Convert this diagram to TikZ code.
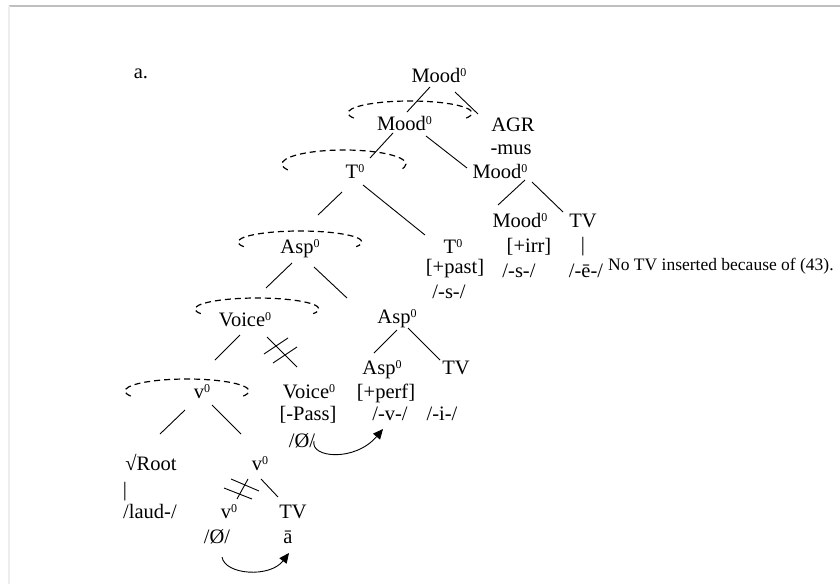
\documentclass[tikz,border=0pt]{standalone}
\usepackage{fontspec}
\setmainfont{Liberation Serif}
\usetikzlibrary{arrows.meta}
% small raised index used on category labels (Mood^0, T^0, ...)
\newcommand\supz[1]{\raisebox{6pt}{\fontsize{12}{12}\selectfont #1}}

\begin{document}
\begin{tikzpicture}[x=1pt,y=-1pt,
  lbl/.style={anchor=base, inner sep=0pt, font=\fontsize{20.5}{24}\selectfont},
  notelbl/.style={anchor=base west, inner sep=0pt, font=\fontsize{17.5}{20}\selectfont},
  branch/.style={line width=0.9pt},
  hashmark/.style={line width=0.9pt},
  dasharc/.style={line width=1.2pt, dash pattern=on 6pt off 4pt},
  movearrow/.style={line width=0.9pt, -{Triangle[length=10pt,width=9pt]}},
  frameline/.style={line width=1.2pt}
]
\useasboundingbox (0,0) rectangle (840,584);

% page frame
\draw[frameline, black!25] (9,6) -- (840,6);
\draw[frameline, black!7] (9,6) -- (9,584);

% ---------- labels ----------
\node[lbl] (tag)    at (141,78)  {a.};
\node[lbl] (root)   at (439,82)  {Mood\supz{0}};
\node[lbl] (moodA)  at (404.5,130) {Mood\supz{0}};
\node[lbl] (agr)    at (513,131) {AGR};
\node[lbl] (mus)    at (511,154) {-mus};
\node[lbl] (tA)     at (355,178) {T\supz{0}};
\node[lbl] (moodB)  at (500,178) {Mood\supz{0}};
\node[lbl] (moodC)  at (520,227) {Mood\supz{0}};
\node[lbl] (tvA)    at (583,227) {TV};
\node[lbl] (irr)    at (529,252) {[+irr]};
\node[lbl] (barA)   at (583,251) {|};
\node[lbl] (sC)     at (519,277) {/-s-/};
\node[lbl] (eA)     at (586,277) {/-ē-/};
\node[lbl] (aspA)   at (300,253) {Asp\supz{0}};
\node[lbl] (tB)     at (453,253) {T\supz{0}};
\node[lbl] (past)   at (455,273) {[+past]};
\node[lbl] (sB)     at (449,298) {/-s-/};
\node[lbl] (voiceA) at (245,326) {Voice\supz{0}};
\node[lbl] (aspB)   at (397,323) {Asp\supz{0}};
\node[lbl] (aspC)   at (382,374) {Asp\supz{0}};
\node[lbl] (tvB)    at (456,374) {TV};
\node[lbl] (vA)     at (202,398) {v\supz{0}};
\node[lbl] (voiceB) at (309,398) {Voice\supz{0}};
\node[lbl] (perf)   at (386,398) {[+perf]};
\node[lbl] (pass)   at (308,420) {[-Pass]};
\node[lbl] (vsuf)   at (390,420) {/-v-/};
\node[lbl] (isuf)   at (442,420) {/-i-/};
\node[lbl] (zeroA)  at (302,447) {/Ø/};
\node[lbl] (rootLex) at (151,470) {√Root};
\node[lbl] (vB)     at (260,470) {v\supz{0}};
\node[lbl] (barB)   at (125,496) {|};
\node[lbl] (laud)   at (150,518) {/laud-/};
\node[lbl] (vC)     at (229,518) {v\supz{0}};
\node[lbl] (tvC)    at (293,518) {TV};
\node[lbl] (zeroB)  at (217,543) {/Ø/};
\node[lbl] (abar)   at (288,543) {ā};
\node[notelbl] (note) at (608,270) {No TV inserted because of (43).};

% ---------- branch end points ----------
\coordinate (b1s) at (430,87);   \coordinate (b1e) at (407,112);
\coordinate (b2s) at (455,92);   \coordinate (b2e) at (478,114);
\coordinate (b3s) at (393,133);  \coordinate (b3e) at (370,158);
\coordinate (b4s) at (426,136);  \coordinate (b4e) at (467,168);
\coordinate (b5s) at (525,180);  \coordinate (b5e) at (498,205);
\coordinate (b6s) at (532,182);  \coordinate (b6e) at (563,212);
\coordinate (b7s) at (342,192);  \coordinate (b7e) at (318,215);
\coordinate (b8s) at (363,185);  \coordinate (b8e) at (425,235);
\coordinate (b9s) at (292,263);  \coordinate (b9e) at (266,288);
\coordinate (b10s) at (314,267); \coordinate (b10e) at (347,298);
\coordinate (b11s) at (240,335); \coordinate (b11e) at (215,360);
\coordinate (b12s) at (267,337); \coordinate (b12e) at (297,367);
\coordinate (b13s) at (397,330); \coordinate (b13e) at (374,353);
\coordinate (b14s) at (408,328); \coordinate (b14e) at (440,360);
\coordinate (b15s) at (185,410); \coordinate (b15e) at (160,434);
\coordinate (b16s) at (212,405); \coordinate (b16e) at (241,434);
\coordinate (b17s) at (248,479); \coordinate (b17e) at (237,499);
\coordinate (b18s) at (261,479); \coordinate (b18e) at (278,497);

% ---------- tree branches ----------
\foreach \b in {1,...,18}
  \draw[branch] (b\b s) -- (b\b e);

% blocked branches (double stroke)
\coordinate (h1a) at (264,354); \coordinate (h1b) at (288,338);
\coordinate (h2a) at (273,363); \coordinate (h2b) at (297,347);
\coordinate (h3a) at (231,479); \coordinate (h3b) at (259,491);
\coordinate (h4a) at (224,488); \coordinate (h4b) at (252,499);
\draw[hashmark] (h1a) -- (h1b);
\draw[hashmark] (h2a) -- (h2b);
\draw[hashmark] (h3a) -- (h3b);
\draw[hashmark] (h4a) -- (h4b);

% ---------- dashed fusion arcs ----------
\draw[dasharc] (410,113) ++(155:62 and 12) arc[start angle=155, end angle=385, x radius=62, y radius=12];
\draw[dasharc] (344,164) ++(155:62 and 14) arc[start angle=155, end angle=385, x radius=62, y radius=14];
\draw[dasharc] (300,242) ++(155:62 and 11) arc[start angle=155, end angle=385, x radius=62, y radius=11];
\draw[dasharc] (257,309) ++(155:62 and 11) arc[start angle=155, end angle=385, x radius=62, y radius=11];
\draw[dasharc] (187,391) ++(155:62 and 12) arc[start angle=155, end angle=385, x radius=62, y radius=12];

% ---------- movement arrows ----------
\coordinate (mA) at (314,441);  \coordinate (mAt) at (383,429);
\coordinate (mB) at (222,557);  \coordinate (mBt) at (289,553);
\draw[movearrow] (mA) .. controls (310,458) and (355,462) .. (mAt);
\draw[movearrow] (mB) .. controls (225,575) and (270,578) .. (mBt);
\end{tikzpicture}
\end{document}
